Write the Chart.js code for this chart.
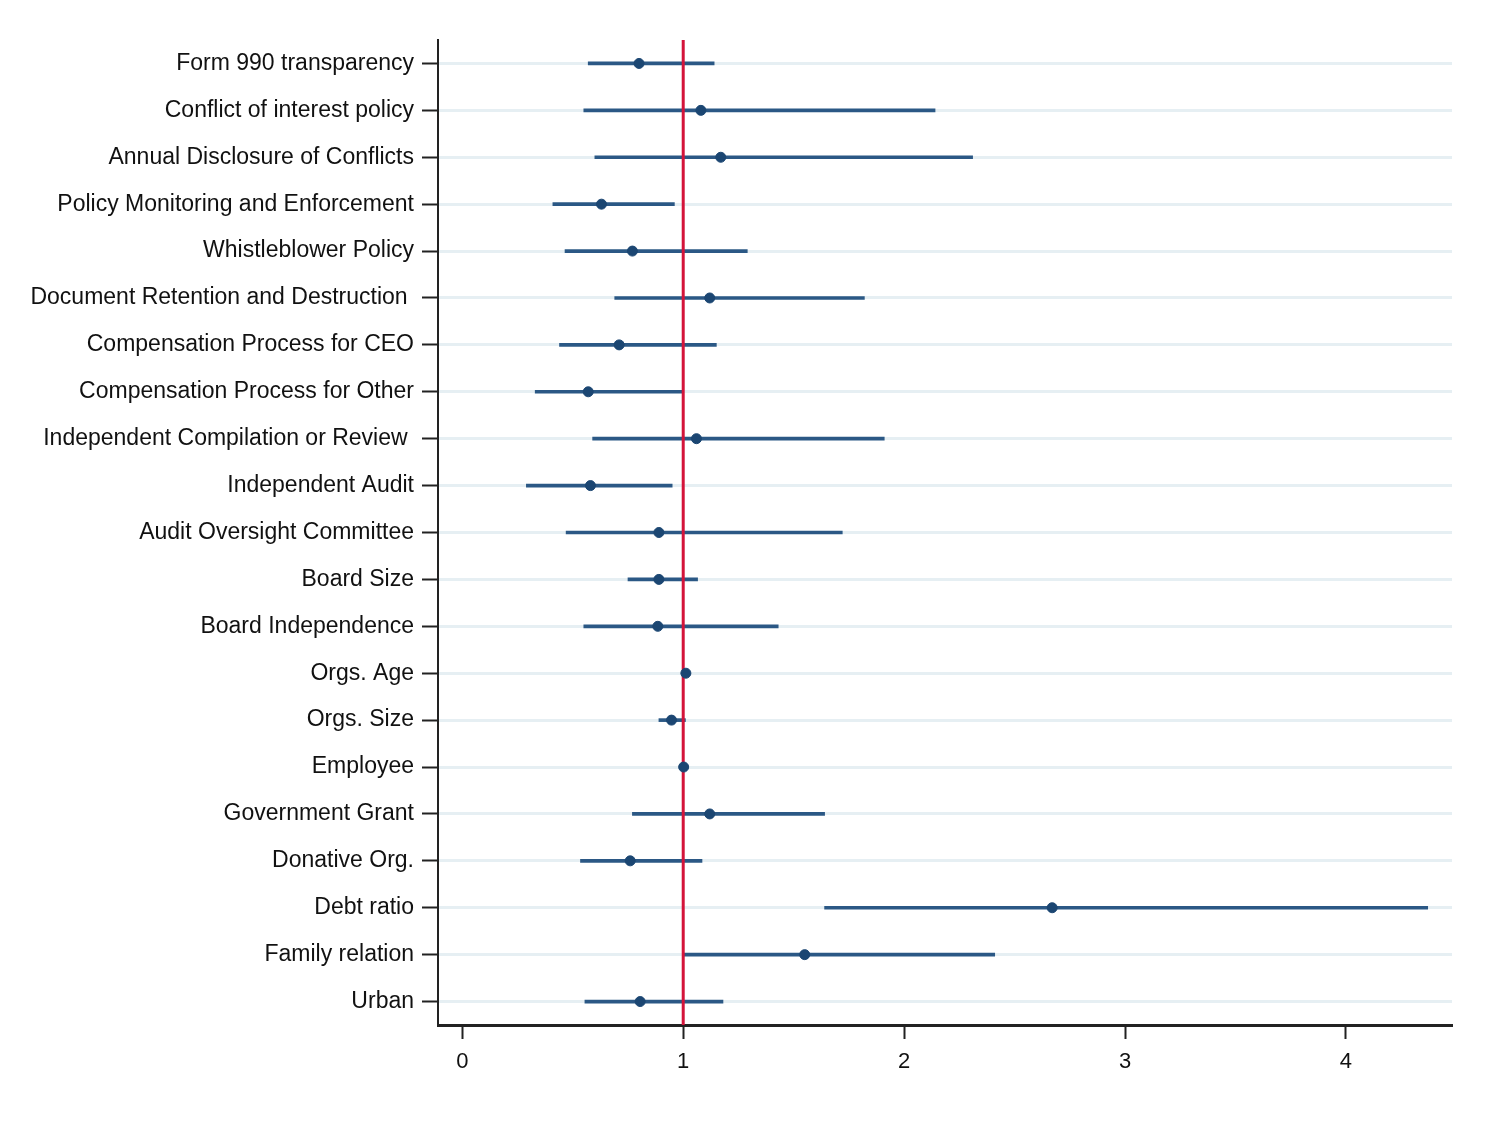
<!DOCTYPE html>
<html>
<head>
<meta charset="utf-8">
<script src="https://cdn.jsdelivr.net/npm/chart.js@4.4.1/dist/chart.umd.min.js"></script>
<style>
  html, body { margin: 0; padding: 0; background: #fff; }
  #wrap { width: 1498px; height: 1122px; }
</style>
</head>
<body>
<div id="wrap"><canvas id="myChart" width="1498" height="1122"></canvas></div>
<script>
// odds ratios with 95% CI
var categories = [
  "Form 990 transparency",
  "Conflict of interest policy",
  "Annual Disclosure of Conflicts",
  "Policy Monitoring and Enforcement",
  "Whistleblower Policy",
  "Document Retention and Destruction ",
  "Compensation Process for CEO",
  "Compensation Process for Other",
  "Independent Compilation or Review ",
  "Independent Audit",
  "Audit Oversight Committee",
  "Board Size",
  "Board Independence",
  "Orgs. Age",
  "Orgs. Size",
  "Employee",
  "Government Grant",
  "Donative Org.",
  "Debt ratio",
  "Family relation",
  "Urban"
];
var estimate = [0.80, 1.08, 1.17, 0.63, 0.77, 1.12, 0.71, 0.57, 1.06, 0.58, 0.89, 0.89, 0.885, 1.012, 0.947, 1.002, 1.12, 0.76, 2.67, 1.55, 0.805];
var ciLow    = [0.57, 0.55, 0.60, 0.41, 0.465, 0.69, 0.44, 0.33, 0.59, 0.29, 0.47, 0.75, 0.55, 1.005, 0.89, 0.998, 0.77, 0.535, 1.64, 1.00, 0.555];
var ciHigh   = [1.14, 2.14, 2.31, 0.96, 1.29, 1.82, 1.15, 1.00, 1.91, 0.95, 1.72, 1.065, 1.43, 1.02, 1.01, 1.006, 1.64, 1.085, 4.37, 2.41, 1.18];
var xTicks = [0, 1, 2, 3, 4];
var refValue = 1;

var refLine = {
  id: 'refLine',
  afterDatasetDraw: function(chart, args) {
    if (args.index !== 0) return;
    var ctx = chart.ctx, area = chart.chartArea;
    var x = chart.scales.x.getPixelForValue(refValue);
    ctx.save();
    ctx.strokeStyle = '#d4143a';
    ctx.lineWidth = 3;
    ctx.beginPath();
    ctx.moveTo(x, area.top);
    ctx.lineTo(x, area.bottom);
    ctx.stroke();
    ctx.restore();
  }
};

var ctx = document.getElementById("myChart").getContext('2d');
var myChart = new Chart(ctx, {
  type: 'bar',
  data: {
    labels: categories,
    datasets: [{
      type: 'bar',
      data: ciLow.map(function(l, i) { return [l, ciHigh[i]]; }),
      backgroundColor: '#2b5885',
      barThickness: 3,
      order: 2
    }, {
      type: 'scatter',
      data: estimate.map(function(e, i) { return { x: e, y: i }; }),
      backgroundColor: '#1b4672',
      borderColor: '#1b4672',
      pointRadius: 5,
      pointHoverRadius: 5,
      order: 1
    }]
  },
  options: {
    indexAxis: 'y',
    responsive: false,
    animation: false,
    layout: { padding: { top: 40, right: 46, left: 0, bottom: 0 } },
    plugins: { legend: { display: false }, tooltip: { enabled: false } },
    scales: {
      x: {
        type: 'linear',
        min: -0.11,
        max: 4.48,
        afterBuildTicks: function(scale) {
          scale.ticks = xTicks.map(function(v) { return { value: v }; });
        },
        afterFit: function(scale) { scale.height = 97; },
        border: { color: '#222', width: 3 },
        grid: { drawOnChartArea: false, tickColor: '#222', tickLength: 14, tickWidth: 2 },
        ticks: { color: '#111', font: { family: 'Liberation Sans', size: 22 }, padding: 10 }
      },
      y: {
        type: 'category',
        offset: true,
        afterFit: function(scale) { scale.width = 438; },
        border: { color: '#222', width: 2 },
        grid: { offset: false, color: '#e6eff3', lineWidth: 3, tickColor: '#222', tickLength: 16, tickWidth: 2 },
        ticks: { color: '#111', font: { family: 'Liberation Sans', size: 23 }, padding: 8, autoSkip: false }
      }
    }
  },
  plugins: [refLine]
});
</script>
</body>
</html>
